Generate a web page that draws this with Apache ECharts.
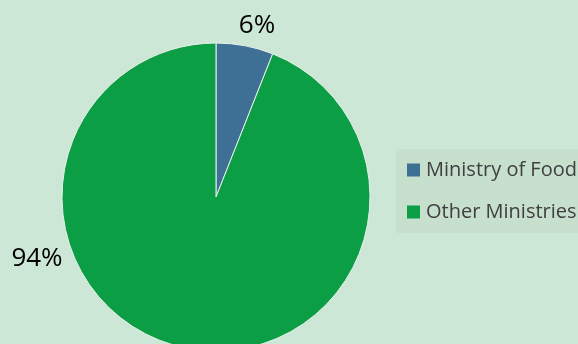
<!DOCTYPE html>
<html>
<head>
<meta charset="utf-8">
<script src="https://cdn.jsdelivr.net/npm/echarts@6/dist/echarts.min.js"></script>
<style>
html,body{margin:0;padding:0;background:#cde7d6;}
#chart{width:578px;height:344px;}
</style>
</head>
<body>
<div id="chart"></div>
<script>
const categories = ['Ministry of Food', 'Other Ministries'];
const values = [6, 94];
const colors = ['#3e7095', '#0c9e45'];

const chart = echarts.init(document.getElementById('chart'), null, {renderer: 'canvas'});
chart.setOption({
  backgroundColor: '#cde7d6',
  animation: false,
  legend: {
    orient: 'vertical',
    left: 396,
    top: 149,
    padding: [11, 20, 11, 11],
    backgroundColor: '#c7dfcd',
    icon: 'rect',
    itemWidth: 13,
    itemHeight: 13,
    itemGap: 22,
    itemStyle: {borderWidth: 0},
    data: categories,
    textStyle: {fontFamily: 'Open Sans', fontSize: 20, color: '#404040', lineHeight: 20, padding: [0,0,0,1]}
  },
  series: [{
    type: 'pie',
    center: [216, 197],
    radius: 154,
    startAngle: 90,
    clockwise: true,
    data: categories.map((c, i) => ({name: c, value: values[i], itemStyle: {color: colors[i]}})),
    itemStyle: {borderColor: '#e8f0ea', borderWidth: 1},
    label: {
      show: true,
      position: 'outside',
      formatter: '{d}%',
      fontFamily: 'Open Sans',
      fontSize: 26,
      color: '#000000'
    },
    labelLine: {show: false},
    labelLayout: function (p) {
      if (p.dataIndex === 0) return {x: 257, y: 26, align: 'center', verticalAlign: 'middle'};
      return {x: 37, y: 259, align: 'center', verticalAlign: 'middle'};
    },
    emphasis: {disabled: true}
  }]
});
</script>
</body>
</html>
